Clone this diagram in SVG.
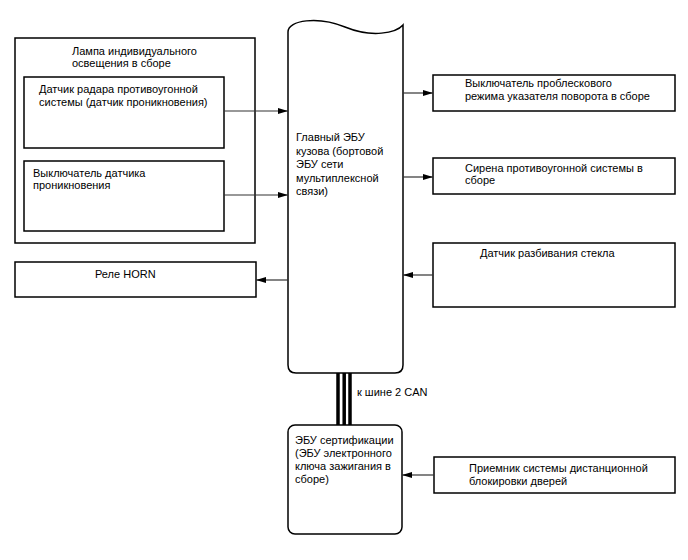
<svg xmlns="http://www.w3.org/2000/svg" width="688" height="560" viewBox="0 0 688 560">
<defs>
<style>
.box{fill:#fff;stroke:#000;stroke-width:1.5}
.t{font-family:"Liberation Sans",Arial,sans-serif;font-size:11px;fill:#000}
.ln{stroke:#333;stroke-width:1.2;fill:none}
.bus{stroke:#000;stroke-width:3.5}
</style>
<marker id="ah" markerWidth="10" markerHeight="6" refX="10" refY="3" orient="auto" markerUnits="userSpaceOnUse">
<path d="M0,0 L10,3 L0,6 Z" fill="#000"/>
</marker>
</defs>
<rect width="688" height="560" fill="#fff"/>

<g id="lamp">
<rect class="box" x="15" y="38" width="240" height="205"/>
<text class="t" x="72" y="55">Лампа индивидуального</text>
<text class="t" x="72" y="67">освещения в сборе</text>
</g>
<g id="radar">
<rect class="box" x="24" y="77" width="200" height="71"/>
<text class="t" x="39" y="93">Датчик радара противоугонной</text>
<text class="t" x="39" y="106">системы (датчик проникновения)</text>
</g>
<g id="intrusion-switch">
<rect class="box" x="24" y="161" width="200" height="70"/>
<text class="t" x="33" y="177">Выключатель датчика</text>
<text class="t" x="33" y="189">проникновения</text>
</g>
<g id="horn">
<rect class="box" x="15" y="262" width="241" height="35"/>
<text class="t" x="95" y="278">Реле HORN</text>
</g>
<g id="main-ecu">
<path class="box" d="M288,365 L288,32 C288,20 318,16 345,27 C372,38 396,33 403,25 L403,365 Q403,373 395,373 L296,373 Q288,373 288,365 Z"/>
<text class="t" x="296" y="141">Главный ЭБУ</text>
<text class="t" x="296" y="154.5">кузова (бортовой</text>
<text class="t" x="296" y="168">ЭБУ сети</text>
<text class="t" x="296" y="181.5">мультиплексной</text>
<text class="t" x="296" y="195">связи)</text>
</g>
<g id="flasher-switch">
<rect class="box" x="433" y="75" width="242" height="36"/>
<text class="t" x="465" y="87">Выключатель проблескового</text>
<text class="t" x="465" y="100">режима указателя поворота в сборе</text>
</g>
<g id="siren">
<rect class="box" x="433" y="158" width="242" height="36"/>
<text class="t" x="465" y="172">Сирена противоугонной системы в</text>
<text class="t" x="465" y="184">сборе</text>
</g>
<g id="glass-sensor">
<rect class="box" x="433" y="243" width="242" height="64"/>
<text class="t" x="480" y="257">Датчик разбивания стекла</text>
</g>
<g id="cert-ecu">
<rect class="box" x="288" y="425" width="114" height="109" rx="7"/>
<text class="t" x="295" y="444">ЭБУ сертификации</text>
<text class="t" x="295" y="457">(ЭБУ электронного</text>
<text class="t" x="295" y="470">ключа зажигания в</text>
<text class="t" x="295" y="482.5">сборе)</text>
</g>
<g id="receiver">
<rect class="box" x="434" y="457" width="241" height="36"/>
<text class="t" x="469" y="472">Приемник системы дистанционной</text>
<text class="t" x="469" y="485">блокировки дверей</text>
</g>

<g id="connectors">
<line class="ln" x1="224" y1="111" x2="288" y2="111" marker-end="url(#ah)"/>
<line class="ln" x1="224" y1="195" x2="288" y2="195" marker-end="url(#ah)"/>
<line class="ln" x1="288" y1="280" x2="256" y2="280" marker-end="url(#ah)"/>
<line class="ln" x1="403" y1="93" x2="433" y2="93" marker-end="url(#ah)"/>
<line class="ln" x1="403" y1="177" x2="433" y2="177" marker-end="url(#ah)"/>
<line class="ln" x1="433" y1="275" x2="403" y2="275" marker-end="url(#ah)"/>
<line class="ln" x1="434" y1="475" x2="402" y2="475" marker-end="url(#ah)"/>
<line class="bus" x1="338" y1="373" x2="338" y2="425"/>
<line class="bus" x1="344.2" y1="373" x2="344.2" y2="425"/>
<line class="bus" x1="350" y1="373" x2="350" y2="425"/>
<text class="t" x="357" y="396">к шине 2 CAN</text>
</g>
</svg>
